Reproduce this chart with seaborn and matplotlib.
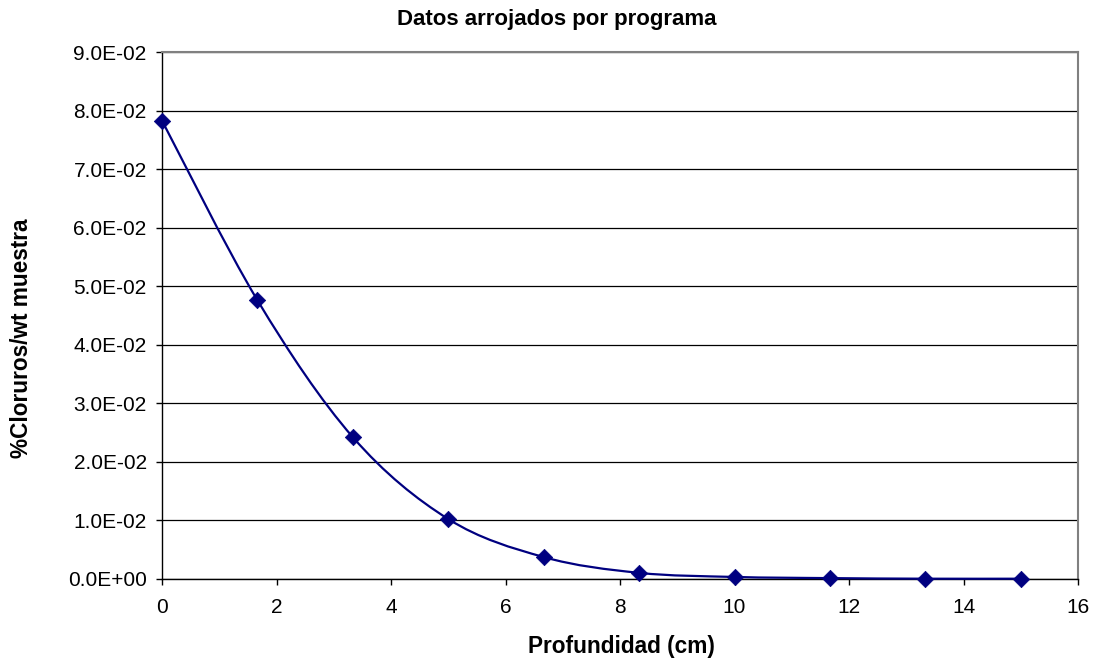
import numpy as np
import pandas as pd
import matplotlib
matplotlib.use("Agg")
import matplotlib.pyplot as plt
from matplotlib.path import Path
from matplotlib.patches import PathPatch
from matplotlib.ticker import FuncFormatter, MultipleLocator
import seaborn as sns

# Depth (cm) and chloride content per sample weight
profundidad = [0.0, 1.667, 3.333, 5.0, 6.667, 8.333, 10.0, 11.667, 13.333, 15.0]
cloruros = [0.0783, 0.0476, 0.0242, 0.0102, 0.0037, 0.0010, 0.0003, 0.0001, 0.0, 0.0]

titulo = "Datos arrojados por programa"
etiqueta_x = "Profundidad (cm)"
etiqueta_y = "%Cloruros/wt muestra"

df = pd.DataFrame({"x": profundidad, "y": cloruros})

sns.set_theme(style="white")
plt.rcParams["font.family"] = ["Liberation Sans", "DejaVu Sans"]

navy = "#000080"

fig = plt.figure(figsize=(10.94, 6.59), dpi=100)
W, H = 1094, 659
ax = fig.add_axes([162 / W, 1 - 578.7 / H, (1078 - 162) / W, (578.7 - 52.2) / H])

# Smoothed connecting line (cubic Bezier segments, Catmull-Rom style tangents)
xs = np.asarray(profundidad)
ys = np.asarray(cloruros)
n = len(xs)
verts = [(xs[0], ys[0])]
codes = [Path.MOVETO]
for i in range(n - 1):
    p0 = np.array([xs[max(i - 1, 0)], ys[max(i - 1, 0)]])
    p1 = np.array([xs[i], ys[i]])
    p2 = np.array([xs[i + 1], ys[i + 1]])
    p3 = np.array([xs[min(i + 2, n - 1)], ys[min(i + 2, n - 1)]])
    c1 = p1 + (p2 - p0) / 6.0
    c2 = p2 - (p3 - p1) / 6.0
    verts += [tuple(c1), tuple(c2), tuple(p2)]
    codes += [Path.CURVE4] * 3
ax.add_patch(PathPatch(Path(verts, codes), facecolor="none", edgecolor=navy,
                       lw=1.6, zorder=3, clip_on=False))

sns.scatterplot(data=df, x="x", y="y", marker="D", s=70, color=navy,
                edgecolor=navy, linewidth=0.5, ax=ax, zorder=4, clip_on=False)

ax.set_xlim(0, 16)
ax.set_ylim(0, 0.09)
ax.xaxis.set_major_locator(MultipleLocator(2))
ax.yaxis.set_major_locator(MultipleLocator(0.01))


def fmt_sci(v, pos):
    if abs(v) < 1e-12:
        return "0.0E+00"
    e = int(np.floor(np.log10(abs(v)) + 1e-9))
    m = v / 10 ** e
    sign = "-" if e < 0 else "+"
    return f"{m:.1f}E{sign}{abs(e):02d}"


ax.yaxis.set_major_formatter(FuncFormatter(fmt_sci))
ax.xaxis.set_major_formatter(FuncFormatter(lambda v, p: f"{int(round(v))}"))

ax.grid(axis="y", color="black", lw=0.9)
ax.grid(axis="x", visible=False)
ax.set_axisbelow(True)

for side in ["left", "bottom"]:
    ax.spines[side].set_color("black")
    ax.spines[side].set_linewidth(1.0)
for side in ["top", "right"]:
    ax.spines[side].set_color("#808080")
    ax.spines[side].set_linewidth(1.5)

ax.tick_params(axis="both", which="major", direction="out", length=4,
               width=1, color="black", labelsize=15, labelcolor="black",
               left=True, bottom=True)
ax.tick_params(axis="y", pad=7)
ax.tick_params(axis="x", pad=10)

ax.set_xlabel("")
ax.set_ylabel("")

fig.text(557 / W, 1 - 25 / H, titulo, ha="center", va="baseline",
         fontsize=16, fontweight="bold", color="black")
fig.text(621 / W, 1 - 653 / H, etiqueta_x, ha="center", va="baseline",
         fontsize=16.3, fontweight="bold", color="black")
fig.text(22 / W, 1 - 338 / H, etiqueta_y, ha="center", va="center",
         rotation=90, fontsize=16.3, fontweight="bold", color="black")

fig.savefig("out.png", dpi=100, facecolor="white")
